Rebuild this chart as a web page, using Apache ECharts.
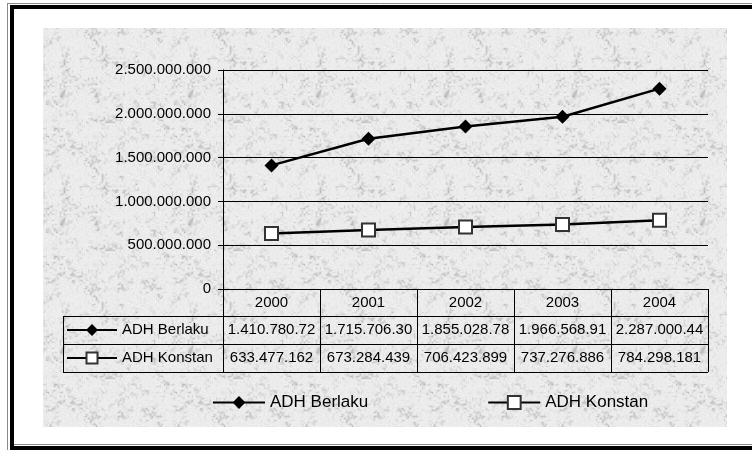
<!DOCTYPE html>
<html>
<head>
<meta charset="utf-8">
<script src="https://cdn.jsdelivr.net/npm/echarts@6/dist/echarts.min.js"></script>
<style>
  html, body { margin: 0; padding: 0; background: #fff; }
  #chart { width: 752px; height: 450px; }
</style>
</head>
<body>
<div id="chart"></div>
<script>
// ---- data ----
const years = ['2000', '2001', '2002', '2003', '2004'];
const berlakuName = 'ADH Berlaku';
const konstanName = 'ADH Konstan';
const berlaku = [1410780720, 1715706300, 1855028780, 1966568910, 2287000440];
const konstan = [633477162, 673284439, 706423899, 737276886, 784298181];
const yMin = 0;
const yMax = 2500000000;
const yStep = 500000000;

// ---- helpers ----
const FONT = '"Liberation Sans", Arial, sans-serif';
const dotted = v => String(Math.round(v)).replace(/\B(?=(\d{3})+(?!\d))/g, '.');

// Speckled grey paper texture used as the chart-area fill (tileable).
function makeTexture() {
  const S = 128;
  const cv = document.createElement('canvas');
  cv.width = cv.height = S;
  const ctx = cv.getContext('2d');
  const img = ctx.createImageData(S, S);
  const hash = (x, y) => { const s = Math.sin(x * 127.1 + y * 311.7) * 43758.5453; return s - Math.floor(s); };
  const smooth = t => t * t * (3 - 2 * t);
  function noise(x, y, cell) {
    const n = S / cell;
    const gx = x / cell, gy = y / cell;
    const i0 = Math.floor(gx), j0 = Math.floor(gy);
    const fx = smooth(gx - i0), fy = smooth(gy - j0);
    const L = (i, j) => hash(((i % n) + n) % n + cell * 17, ((j % n) + n) % n + cell * 31);
    const a = L(i0, j0), b = L(i0 + 1, j0), c = L(i0, j0 + 1), d = L(i0 + 1, j0 + 1);
    return (a * (1 - fx) + b * fx) * (1 - fy) + (c * (1 - fx) + d * fx) * fy;
  }
  for (let y = 0; y < S; y++) {
    for (let x = 0; x < S; x++) {
      const v = 0.6 * noise(x, y, 2) + 0.4 * noise(x, y, 8);
      const d = Math.max(0, Math.min(1, (v - 0.42) / 0.5));
      const fine = hash(x + 1000, y + 2000);
      const g = Math.round(240 - 48 * d * d - 8 * fine);
      const k = (y * S + x) * 4;
      img.data[k] = g; img.data[k + 1] = g; img.data[k + 2] = g; img.data[k + 3] = 255;
    }
  }
  ctx.putImageData(img, 0, 0);
  return cv;
}

const chart = echarts.init(document.getElementById('chart'), null, { renderer: 'canvas' });

// table geometry below the x axis
const ROW_H = [27, 28, 28];
const LEGEND_COL_LEFT = 63;

chart.setOption({
  animation: false,
  backgroundColor: '#fff',
  textStyle: { fontFamily: FONT },
  grid: { left: 223, top: 70, right: 44, bottom: 161, containLabel: false },
  legend: {
    data: [berlakuName, konstanName],
    left: 212, top: 394, padding: 0,
    itemWidth: 52, itemHeight: 16, itemGap: 119,
    textStyle: { fontFamily: FONT, fontSize: 17, color: '#000' },
    inactiveColor: '#000'
  },
  xAxis: {
    type: 'category',
    data: years,
    boundaryGap: true,
    axisLine: { show: true, lineStyle: { color: '#000', width: 1 } },
    axisTick: { show: true, interval: 0, inside: false, length: ROW_H[0] + ROW_H[1] + ROW_H[2], lineStyle: { color: '#000', width: 1 } },
    axisLabel: { show: false },
    splitLine: { show: false }
  },
  yAxis: {
    type: 'value',
    min: yMin, max: yMax, interval: yStep,
    axisLine: { show: true, lineStyle: { color: '#000', width: 1 } },
    axisTick: { show: true, length: 5, lineStyle: { color: '#000' } },
    axisLabel: { formatter: v => dotted(v), fontFamily: FONT, fontSize: 15, color: '#000', margin: 12 },
    splitLine: { show: true, lineStyle: { color: '#000', width: 1 } }
  },
  series: [
    {
      name: berlakuName, type: 'line', data: berlaku,
      symbol: 'diamond', symbolSize: 14, showAllSymbol: true,
      lineStyle: { color: '#000', width: 2.5 },
      itemStyle: { color: '#000' },
      z: 3
    },
    {
      name: konstanName, type: 'line', data: konstan,
      symbol: 'rect', symbolSize: 13, showAllSymbol: true,
      lineStyle: { color: '#000', width: 2.5 },
      itemStyle: { color: '#fff', borderColor: '#333', borderWidth: 2 },
      z: 3
    }
  ]
});

// ---- data table, frame and texture, positioned from the axes ----
const cx = years.map((_, i) => chart.convertToPixel({ xAxisIndex: 0 }, i));
const band = cx[1] - cx[0];
const plotLeft = cx[0] - band / 2;
const plotRight = cx[cx.length - 1] + band / 2;
const y0 = chart.convertToPixel({ yAxisIndex: 0 }, yMin);
const rowTop = [y0, y0 + ROW_H[0], y0 + ROW_H[0] + ROW_H[1]];
const tableBottom = rowTop[2] + ROW_H[2];
const rowMid = rowTop.map((t, i) => t + ROW_H[i] / 2);

const g = [];
// textured chart area
g.push({ type: 'rect', z: -10, silent: true,
  shape: { x: 43, y: 28, width: 684, height: 399 },
  style: { fill: { image: makeTexture(), repeat: 'repeat' } } });

// outer frame (thin grey + thick black)
g.push({ type: 'line', z: 20, shape: { x1: 7.5, y1: 3, x2: 7.5, y2: 450 }, style: { stroke: '#8a8a8a', lineWidth: 1 } });
g.push({ type: 'line', z: 20, shape: { x1: 7, y1: 3.5, x2: 752, y2: 3.5 }, style: { stroke: '#8a8a8a', lineWidth: 1 } });
g.push({ type: 'rect', z: 20, shape: { x: 10, y: 5, width: 4, height: 445 }, style: { fill: '#000' } });
g.push({ type: 'rect', z: 20, shape: { x: 10, y: 5, width: 742, height: 4 }, style: { fill: '#000' } });
g.push({ type: 'line', z: 20, shape: { x1: 14, y1: 444.5, x2: 752, y2: 444.5 }, style: { stroke: '#8a8a8a', lineWidth: 1 } });
g.push({ type: 'rect', z: 20, shape: { x: 10, y: 446, width: 742, height: 4 }, style: { fill: '#000' } });

// table horizontal rules
const hline = (x1, x2, y) => g.push({ type: 'line', z: 5, shape: { x1, y1: Math.round(y) + 0.5, x2, y2: Math.round(y) + 0.5 }, style: { stroke: '#000', lineWidth: 1 } });
hline(LEGEND_COL_LEFT, plotRight, rowTop[1]);
hline(LEGEND_COL_LEFT, plotRight, rowTop[2]);
hline(LEGEND_COL_LEFT, plotRight, tableBottom);
// table left edge and y-axis continuation
g.push({ type: 'line', z: 5, shape: { x1: LEGEND_COL_LEFT + 0.5, y1: rowTop[1], x2: LEGEND_COL_LEFT + 0.5, y2: tableBottom + 0.5 }, style: { stroke: '#000', lineWidth: 1 } });
g.push({ type: 'line', z: 5, shape: { x1: Math.round(plotLeft) + 0.5, y1: y0, x2: Math.round(plotLeft) + 0.5, y2: tableBottom + 0.5 }, style: { stroke: '#000', lineWidth: 1 } });

// table text
const cellText = (text, x, y) => g.push({ type: 'text', z: 6,
  style: { text, x, y, align: 'center', verticalAlign: 'middle', fill: '#000',
    font: '15px ' + FONT, width: band - 1, overflow: 'truncate', ellipsis: '' } });
years.forEach((yr, i) => cellText(yr, cx[i], rowMid[0]));
berlaku.forEach((v, i) => cellText(dotted(v), cx[i], rowMid[1]));
konstan.forEach((v, i) => cellText(dotted(v), cx[i], rowMid[2]));

// row keys
const keyX1 = 67, keyX2 = 117, keyMid = 92;
[berlakuName, konstanName].forEach((name, r) => {
  const y = rowMid[r + 1];
  g.push({ type: 'line', z: 6, shape: { x1: keyX1, y1: y, x2: keyX2, y2: y }, style: { stroke: '#000', lineWidth: 2 } });
  if (r === 0) {
    g.push({ type: 'polygon', z: 7, shape: { points: [[keyMid, y - 6], [keyMid + 6, y], [keyMid, y + 6], [keyMid - 6, y]] }, style: { fill: '#000' } });
  } else {
    g.push({ type: 'rect', z: 7, shape: { x: keyMid - 5.5, y: y - 5.5, width: 11, height: 11 }, style: { fill: '#fff', stroke: '#333', lineWidth: 2 } });
  }
  g.push({ type: 'text', z: 6, style: { text: name, x: 122, y, align: 'left', verticalAlign: 'middle', fill: '#000', font: '15px ' + FONT } });
});

chart.setOption({ graphic: { elements: g } });
</script>
</body>
</html>
